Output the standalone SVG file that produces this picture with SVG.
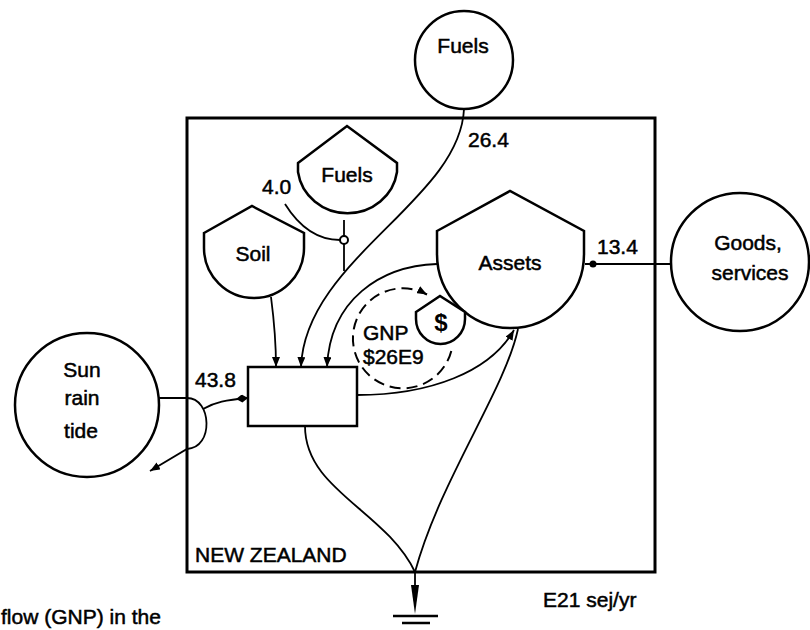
<svg xmlns="http://www.w3.org/2000/svg" width="810" height="630" viewBox="0 0 810 630">
<defs>
<style>
.n{fill:#fff;stroke:#000;stroke-width:2.5}
.c{fill:none;stroke:#000;stroke-width:1.8}
.t{font-family:"Liberation Sans",Arial,sans-serif;font-size:21px;fill:#000;stroke:#000;stroke-width:0.5}
.m{text-anchor:middle}
</style>
<marker id="ah" viewBox="0 0 10 8" refX="10" refY="4" markerWidth="10" markerHeight="8" markerUnits="userSpaceOnUse" orient="auto">
<path d="M0,0 L10,4 L0,8 z" fill="#000"/>
</marker>
<marker id="dm" viewBox="0 0 12 8" refX="12" refY="4" markerWidth="12" markerHeight="8" markerUnits="userSpaceOnUse" orient="auto">
<path d="M0,4 L6,0 L12,4 L6,8 z" fill="#000"/>
</marker>
</defs>
<rect width="810" height="630" fill="#fff"/>

<g id="frame">
<rect x="187" y="118" width="468" height="454" fill="none" stroke="#000" stroke-width="3"/>
<text class="t" x="195" y="562">NEW ZEALAND</text>
</g>

<g id="connectors">
<path class="c" d="M158,398 L187,398 C212,398 214,448 187,449 L150,471" marker-end="url(#ah)"/>
<path class="c" d="M203,409 C215,402 226,400 248,398" marker-end="url(#dm)"/>
<path class="c" d="M271,297 C274,320 276,340 276,367" marker-end="url(#ah)"/>
<path class="c" d="M464,109 C460,200 305,260 301,367" marker-end="url(#ah)"/>
<path class="c" d="M344,220 L344,271"/>
<circle cx="344" cy="240" r="4" fill="#fff" stroke="#000" stroke-width="2"/>
<path class="c" d="M285,204 C300,228 318,240 340,240"/>
<path class="c" d="M437,264 C380,266 330,300 327,367" marker-end="url(#ah)"/>
<path class="c" d="M357,395 C430,395 490,372 514,330" marker-end="url(#ah)"/>
<path class="c" d="M672,264 L585,264"/>
<circle cx="593" cy="264" r="3.5" fill="#000"/>
<path class="c" d="M305,426 C305,490 385,510 415,572"/>
<path class="c" d="M518,329 C505,390 440,480 415,572"/>
<path d="M451.3,350.9 A50,50 0 1 1 427,294.5" fill="none" stroke="#000" stroke-width="2" stroke-dasharray="11,6" marker-end="url(#ah)"/>
</g>

<g id="sun">
<circle class="n" cx="87" cy="405" r="72"/>
<text class="t m" x="82" y="377">Sun</text>
<text class="t m" x="82" y="405">rain</text>
<text class="t m" x="81" y="438">tide</text>
<text class="t" x="195" y="387">43.8</text>
</g>

<g id="fuels-import">
<circle class="n" cx="464" cy="60" r="49"/>
<text class="t m" x="463" y="53">Fuels</text>
<text class="t" x="468" y="147">26.4</text>
</g>

<g id="fuels-storage">
<path class="n" d="M298,163 L347,126 L397,163 L397,172 A50,48 0 0 1 298,172 Z"/>
<text class="t m" x="347" y="182">Fuels</text>
<text class="t" x="262" y="194">4.0</text>
</g>

<g id="soil">
<path class="n" d="M204,233 L252,206 L304,233 L304,248 A50,50 0 0 1 204,248 Z"/>
<text class="t m" x="253" y="261">Soil</text>
</g>

<g id="assets">
<path class="n" d="M437,231 L510,191 L584,231 L584,254 A73.5,74 0 0 1 437,254 Z"/>
<text class="t m" x="510" y="270">Assets</text>
</g>

<g id="money">
<path class="n" d="M416,312 L440,296 L465,312 L465,319 A24.5,25 0 0 1 416,319 Z"/>
<text class="m" x="441" y="331" font-family="Liberation Sans,Arial,sans-serif" font-size="24" font-weight="bold">$</text>
<text class="t" x="363" y="340">GNP</text>
<text class="t" x="363" y="364">$26E9</text>
</g>

<g id="goods">
<circle class="n" cx="740" cy="262" r="69"/>
<text class="t m" x="748" y="250">Goods,</text>
<text class="t m" x="750" y="280">services</text>
<text class="t" x="597" y="254">13.4</text>
</g>

<g id="process">
<rect class="n" x="248" y="367" width="109" height="59"/>
</g>

<g id="sink">
<path d="M415,572 L415,585" stroke="#000" stroke-width="1.8"/>
<path d="M411,585 L419,585 L415,614 Z" fill="#000"/>
<path d="M393,616 L438,616 M402,623 L430,623" stroke="#000" stroke-width="2.5"/>
</g>

<text class="t" x="543" y="607">E21 sej/yr</text>
<text class="t" x="1" y="624" font-size="22">flow (GNP) in the</text>
</svg>
